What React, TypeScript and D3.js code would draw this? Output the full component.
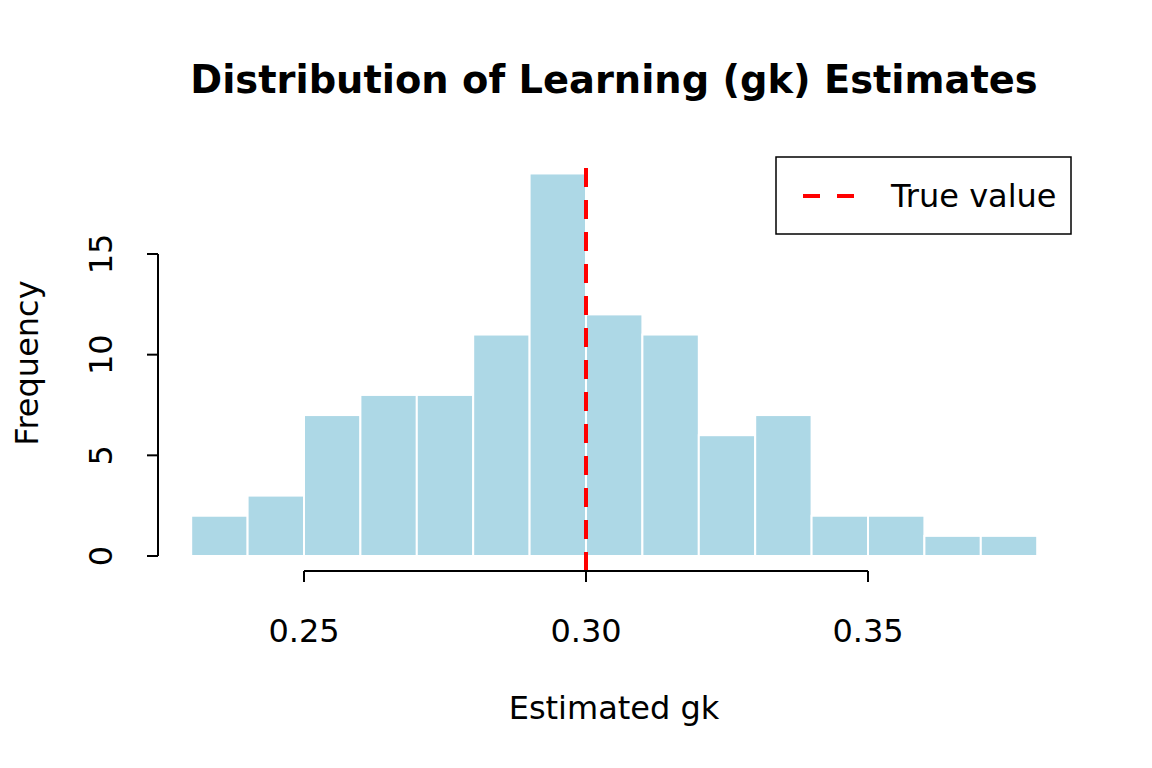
import { useMemo } from "react";
import * as d3 from "d3";

const binEdges = [0.23, 0.24, 0.25, 0.26, 0.27, 0.28, 0.29, 0.3, 0.31, 0.32, 0.33, 0.34, 0.35, 0.36, 0.37, 0.38];
const binCounts = [2, 3, 7, 8, 8, 11, 19, 12, 11, 6, 7, 2, 2, 1, 1];
const xTicks = [0.25, 0.3, 0.35];
const yTicks = [0, 5, 10, 15];
const trueValue = 0.3;

const W = 1152;
const H = 768;
const FONT = "DejaVu Sans, Liberation Sans, sans-serif";

export default function App() {
  const { x, y, bins } = useMemo(() => {
    const x = d3.scaleLinear().domain([0.25, 0.35]).range([304, 868]);
    const y = d3.scaleLinear().domain([0, 15]).range([556, 254]);
    const bins = binCounts.map((count, i) => ({
      x0: binEdges[i],
      x1: binEdges[i + 1],
      count,
    }));
    return { x, y, bins };
  }, []);

  const axisY = 571;
  const axisX = 158;
  // plot region in R extends 4% past the data range
  const yTop = y(19 * 1.04);

  return (
    <div style={{ position: "fixed", left: 0, top: 0, width: W, height: H, background: "#fff" }}>
      <svg width={W} height={H} fontFamily={FONT}>
        <text x={614} y={93} textAnchor="middle" fontSize={38.4} fontWeight="bold">
          Distribution of Learning (gk) Estimates
        </text>

        {bins.map((b, i) => (
          <rect
            key={i}
            x={x(b.x0)}
            y={y(b.count)}
            width={x(b.x1) - x(b.x0)}
            height={y(0) - y(b.count)}
            fill="#ADD8E6"
            stroke="#ffffff"
            strokeWidth={2}
          />
        ))}

        <line
          x1={x(trueValue)}
          x2={x(trueValue)}
          y1={axisY}
          y2={yTop}
          stroke="#ff0000"
          strokeWidth={4}
          strokeDasharray="19 13"
        />

        {/* x axis */}
        <line x1={x(xTicks[0])} x2={x(xTicks[xTicks.length - 1])} y1={axisY} y2={axisY} stroke="#000" strokeWidth={2} />
        {xTicks.map((t) => (
          <g key={t}>
            <line x1={x(t)} x2={x(t)} y1={axisY} y2={axisY + 11} stroke="#000" strokeWidth={2} />
            <text x={x(t)} y={642} textAnchor="middle" fontSize={32}>
              {t.toFixed(2)}
            </text>
          </g>
        ))}

        {/* y axis */}
        <line x1={axisX} x2={axisX} y1={y(0)} y2={y(15)} stroke="#000" strokeWidth={2} />
        {yTicks.map((t) => (
          <g key={t}>
            <line x1={axisX - 11} x2={axisX} y1={y(t)} y2={y(t)} stroke="#000" strokeWidth={2} />
            <text
              transform={`translate(112,${y(t)}) rotate(-90)`}
              textAnchor="middle"
              fontSize={32}
            >
              {t}
            </text>
          </g>
        ))}

        <text x={614} y={719} textAnchor="middle" fontSize={32}>
          Estimated gk
        </text>
        <text transform="translate(38,363) rotate(-90)" textAnchor="middle" fontSize={32}>
          Frequency
        </text>

        {/* legend */}
        <rect x={776} y={157} width={295} height={77} fill="#fff" stroke="#000" strokeWidth={1.5} />
        <line x1={803} x2={855} y1={196} y2={196} stroke="#ff0000" strokeWidth={4} strokeDasharray="17 17" />
        <text x={891} y={207} fontSize={32}>
          True value
        </text>
      </svg>
    </div>
  );
}
